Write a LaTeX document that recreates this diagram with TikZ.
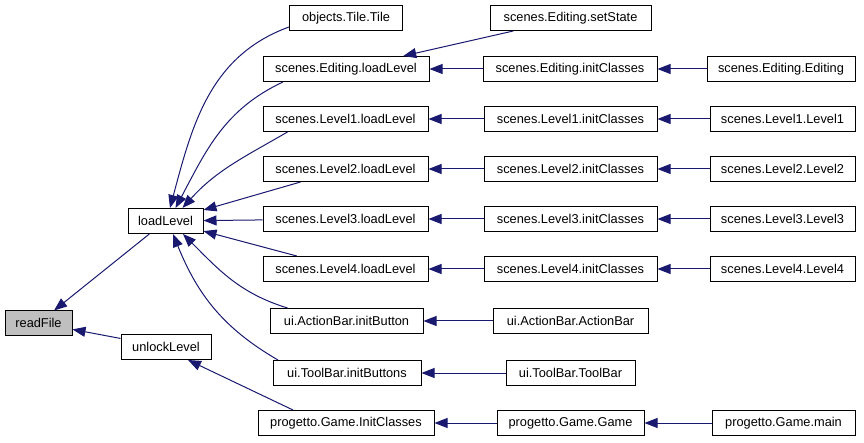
\documentclass[tikz,border=0pt]{standalone}
\usepackage{fontspec}
\setmainfont{Liberation Sans}
\usepackage{tikz}
\usetikzlibrary{arrows.meta}
\definecolor{colEdge}{RGB}{25,25,112}
\definecolor{colSel}{RGB}{191,191,191}

\begin{document}
\begin{tikzpicture}[
  x=1pt, y=-1pt,
  fn/.style={rectangle, draw=black, line width=1pt, fill=white,
             minimum height=25, inner xsep=2pt, inner ysep=0pt,
             font=\fontsize{12.8}{14}\selectfont},
  arr/.style={-{Triangle[length=13pt, width=10pt]}, line width=1pt, colEdge},
]
\useasboundingbox (0,0) rectangle (864,443);

% callee side
\node[fn, fill=colSel, minimum width=67, minimum height=24] (readFile) at (38.5,323) {readFile};
\node[fn, minimum width=75] (loadLevel) at (165.5,221) {loadLevel};
\node[fn, minimum width=90] (unlockLevel) at (166,347) {unlockLevel};

% first column of callers
\node[fn, minimum width=113] (tile) at (346,18) {objects.Tile.Tile};
\node[fn, minimum width=166] (edload) at (346,69) {scenes.Editing.loadLevel};
\node[fn, minimum width=165] (lvloadA) at (345.5,119) {scenes.Level1.loadLevel};
\node[fn, minimum width=165] (lvloadB) at (345.5,169) {scenes.Level2.loadLevel};
\node[fn, minimum width=165] (lvloadC) at (345.5,219) {scenes.Level3.loadLevel};
\node[fn, minimum width=165] (lvloadD) at (345.5,269) {scenes.Level4.loadLevel};
\node[fn, minimum width=153] (abinit) at (346.5,321) {ui.ActionBar.initButton};
\node[fn, minimum width=148] (tbinit) at (347,373) {ui.ToolBar.initButtons};
\node[fn, minimum width=176] (gameinit) at (346,423) {progetto.Game.InitClasses};

% second column
\node[fn, minimum width=161] (setstate) at (570.5,18) {scenes.Editing.setState};
\node[fn, minimum width=174] (edinit) at (570,69) {scenes.Editing.initClasses};
\node[fn, minimum width=173] (lvinitA) at (570.5,119) {scenes.Level1.initClasses};
\node[fn, minimum width=173] (lvinitB) at (570.5,169) {scenes.Level2.initClasses};
\node[fn, minimum width=173] (lvinitC) at (570.5,219) {scenes.Level3.initClasses};
\node[fn, minimum width=173] (lvinitD) at (570.5,269) {scenes.Level4.initClasses};
\node[fn, minimum width=155] (abctor) at (570.5,321) {ui.ActionBar.ActionBar};
\node[fn, minimum width=129] (tbctor) at (570.5,373) {ui.ToolBar.ToolBar};
\node[fn, minimum width=147] (gamector) at (570.5,423) {progetto.Game.Game};

% third column
\node[fn, minimum width=148] (edctor) at (781,69) {scenes.Editing.Editing};
\node[fn, minimum width=145] (lvctorA) at (782.5,119) {scenes.Level1.Level1};
\node[fn, minimum width=145] (lvctorB) at (782.5,169) {scenes.Level2.Level2};
\node[fn, minimum width=145] (lvctorC) at (782.5,219) {scenes.Level3.Level3};
\node[fn, minimum width=145] (lvctorD) at (782.5,269) {scenes.Level4.Level4};
\node[fn, minimum width=143] (gamemain) at (783.5,423) {progetto.Game.main};

% calls into readFile
\draw[arr] (loadLevel) -- (readFile);
\draw[arr] (unlockLevel) -- (readFile);
\draw[arr] ([xshift=-53pt]gameinit.north) -- ([xshift=22pt]unlockLevel.south);

% calls into loadLevel
\draw[arr] ([yshift=-9pt]tile.west) to[out=200, in=75] ([xshift=4.5pt]loadLevel.north);
\draw[arr] ([xshift=-63pt]edload.south) to[out=205, in=62] ([xshift=10pt]loadLevel.north);
\draw[arr] ([xshift=-58pt]lvloadA.south) to[out=210, in=48] ([xshift=17pt]loadLevel.north);
\draw[arr] (lvloadB) -- (loadLevel);
\draw[arr] (lvloadC) -- (loadLevel);
\draw[arr] (lvloadD) -- (loadLevel);
\draw[arr] ([xshift=-59pt]abinit.north) to[out=163, in=-45] ([xshift=17.5pt]loadLevel.south);
\draw[arr] ([xshift=-69pt]tbinit.north) to[out=150, in=-68] ([xshift=7.5pt]loadLevel.south);

% second level calls
\draw[arr] (setstate) -- (edload);
\draw[arr] (edinit) -- (edload);
\draw[arr] (lvinitA) -- (lvloadA);
\draw[arr] (lvinitB) -- (lvloadB);
\draw[arr] (lvinitC) -- (lvloadC);
\draw[arr] (lvinitD) -- (lvloadD);
\draw[arr] (abctor) -- (abinit);
\draw[arr] (tbctor) -- (tbinit);
\draw[arr] (gamector) -- (gameinit);

% third level calls
\draw[arr] (edctor) -- (edinit);
\draw[arr] (lvctorA) -- (lvinitA);
\draw[arr] (lvctorB) -- (lvinitB);
\draw[arr] (lvctorC) -- (lvinitC);
\draw[arr] (lvctorD) -- (lvinitD);
\draw[arr] (gamemain) -- (gamector);
\end{tikzpicture}
\end{document}
